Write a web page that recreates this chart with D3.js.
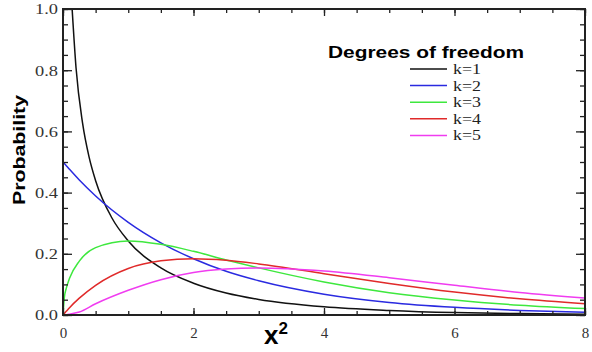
<!DOCTYPE html>
<html>
<head>
<meta charset="utf-8">
<script src="https://cdn.jsdelivr.net/npm/d3@7"></script>
<style>
  body { margin: 0; background: #fff; }
  svg { display: block; }
</style>
</head>
<body>
<div id="chart"></div>
<script>
// values
var xs1 = [0.14, 0.2, 0.3, 0.4, 0.5, 0.75, 1, 1.5, 2, 2.5, 3, 4, 5, 6, 7, 8];
var k1 = [1.0, 0.807, 0.627, 0.516, 0.439, 0.317, 0.242, 0.154, 0.104, 0.072, 0.051, 0.027, 0.015, 0.008, 0.0045, 0.0026];

var xs = [0, 0.02, 0.05, 0.1, 0.25, 0.5, 1, 1.5, 2, 2.5, 3, 4, 5, 6, 7, 8];
var k2 = [0.5, 0.495, 0.488, 0.476, 0.441, 0.389, 0.303, 0.236, 0.184, 0.143, 0.112, 0.068, 0.041, 0.025, 0.015, 0.009];
var k3 = [0, 0.056, 0.087, 0.12, 0.176, 0.22, 0.242, 0.231, 0.208, 0.180, 0.154, 0.108, 0.073, 0.049, 0.032, 0.021];
var k4 = [0, 0.005, 0.012, 0.024, 0.055, 0.097, 0.152, 0.177, 0.184, 0.179, 0.167, 0.135, 0.103, 0.075, 0.053, 0.037];
var k5 = [0, 0.0001, 0.0008, 0.0027, 0.0096, 0.0366, 0.0807, 0.1155, 0.1387, 0.150, 0.154, 0.144, 0.122, 0.097, 0.0735, 0.0555];

var seriesNames = ["k=1", "k=2", "k=3", "k=4", "k=5"];
var seriesColors = ["#111111", "#2a2ae0", "#3ee83e", "#e02a2a", "#f03cf0"];
var xTicks = [0, 2, 4, 6, 8];
var yTicks = [0, 0.2, 0.4, 0.6, 0.8, 1.0];

var width = 592, height = 352;
var plotLeft = 63, plotRight = 585, plotTop = 9, plotBottom = 315;

var svg = d3.select("#chart").append("svg")
    .attr("width", width).attr("height", height);

var x = d3.scaleLinear().domain([0, 8]).range([plotLeft, plotRight]);
var y = d3.scaleLinear().domain([0, 1]).range([plotBottom, plotTop]);

svg.append("clipPath").attr("id", "clip")
  .append("rect").attr("x", plotLeft).attr("y", plotTop)
  .attr("width", plotRight - plotLeft).attr("height", plotBottom - plotTop);

// curves
var line = d3.line()
    .x(function(d) { return x(d[0]); })
    .y(function(d) { return y(d[1]); })
    .curve(d3.curveMonotoneX);

var series = [
  d3.zip(xs1, k1),
  d3.zip(xs, k2),
  d3.zip(xs, k3),
  d3.zip(xs, k4),
  d3.zip(xs, k5)
];

svg.append("g").attr("clip-path", "url(#clip)")
  .selectAll("path")
  .data(series)
  .enter()
  .append("path")
  .attr("d", line)
  .attr("fill", "none")
  .attr("stroke", function(d, i) { return seriesColors[i]; })
  .attr("stroke-width", 1.5);

// frame
svg.append("rect")
  .attr("x", plotLeft).attr("y", plotTop)
  .attr("width", plotRight - plotLeft).attr("height", plotBottom - plotTop)
  .attr("fill", "none").attr("stroke", "#222").attr("stroke-width", 2);

// ticks (inward, all four sides)
function tickGroup(axis, transform) {
  var g = svg.append("g").attr("transform", transform).call(axis);
  g.select(".domain").remove();
  g.selectAll("line").attr("stroke", "#222").attr("stroke-width", 1.3);
  return g;
}

var minorX = d3.range(0, 8.01, 0.5);
var minorY = d3.range(0, 1.001, 0.05);

tickGroup(d3.axisBottom(x).tickValues(minorX).tickSize(-4).tickFormat(""), "translate(0," + plotBottom + ")");
tickGroup(d3.axisTop(x).tickValues(minorX).tickSize(-4).tickFormat(""), "translate(0," + plotTop + ")");
tickGroup(d3.axisBottom(x).tickValues(xTicks).tickSize(-7).tickFormat(""), "translate(0," + plotBottom + ")");
tickGroup(d3.axisTop(x).tickValues(xTicks).tickSize(-7).tickFormat(""), "translate(0," + plotTop + ")");
tickGroup(d3.axisLeft(y).tickValues(minorY).tickSize(-5).tickFormat(""), "translate(" + plotLeft + ",0)");
tickGroup(d3.axisRight(y).tickValues(minorY).tickSize(-5).tickFormat(""), "translate(" + plotRight + ",0)");
tickGroup(d3.axisLeft(y).tickValues(yTicks).tickSize(-9).tickFormat(""), "translate(" + plotLeft + ",0)");
tickGroup(d3.axisRight(y).tickValues(yTicks).tickSize(-9).tickFormat(""), "translate(" + plotRight + ",0)");

// tick labels
var xl = svg.append("g").attr("transform", "translate(0," + plotBottom + ")")
  .call(d3.axisBottom(x).tickValues(xTicks).tickSize(0).tickPadding(12).tickFormat(d3.format("d")));
xl.select(".domain").remove();
xl.selectAll("text")
  .attr("font-family", "'Liberation Serif', serif")
  .attr("font-size", 15).attr("fill", "#333");

var yl = svg.append("g").attr("transform", "translate(" + plotLeft + ",0)")
  .call(d3.axisLeft(y).tickValues(yTicks).tickSize(0).tickPadding(5).tickFormat(d3.format(".1f")));
yl.select(".domain").remove();
yl.selectAll("text")
  .attr("font-family", "'Liberation Serif', serif")
  .attr("font-size", 15).attr("fill", "#333")
  .attr("textLength", 23).attr("lengthAdjust", "spacingAndGlyphs");

// axis titles
svg.append("text")
  .attr("transform", "translate(25,150) rotate(-90)")
  .attr("text-anchor", "middle")
  .attr("font-family", "'Liberation Sans', Arial, sans-serif")
  .attr("font-weight", "bold").attr("font-size", 17)
  .attr("textLength", 110).attr("lengthAdjust", "spacingAndGlyphs")
  .text("Probability");

var xt = svg.append("text")
  .attr("x", 264).attr("y", 344)
  .attr("font-family", "'Liberation Sans', Arial, sans-serif")
  .attr("font-weight", "bold").attr("font-size", 26)
  .text("x");
xt.append("tspan").attr("dy", -10).attr("font-size", 17).text("2");

// legend
svg.append("text")
  .attr("x", 328).attr("y", 58)
  .attr("font-family", "'Liberation Sans', Arial, sans-serif")
  .attr("font-weight", "bold").attr("font-size", 16)
  .attr("textLength", 196).attr("lengthAdjust", "spacingAndGlyphs")
  .text("Degrees of freedom");

var leg = svg.append("g").selectAll("g")
  .data(seriesNames)
  .enter().append("g")
  .attr("transform", function(d, i) { return "translate(410," + (69 + i * 16.6) + ")"; });

leg.append("line")
  .attr("x1", 0).attr("x2", 37)
  .attr("stroke", function(d, i) { return seriesColors[i]; })
  .attr("stroke-width", 1.5);

leg.append("text")
  .attr("x", 43).attr("y", 5)
  .attr("font-family", "'Liberation Serif', serif")
  .attr("font-size", 15).attr("fill", "#222")
  .attr("textLength", 28).attr("lengthAdjust", "spacingAndGlyphs")
  .text(function(d) { return d; });
</script>
</body>
</html>
